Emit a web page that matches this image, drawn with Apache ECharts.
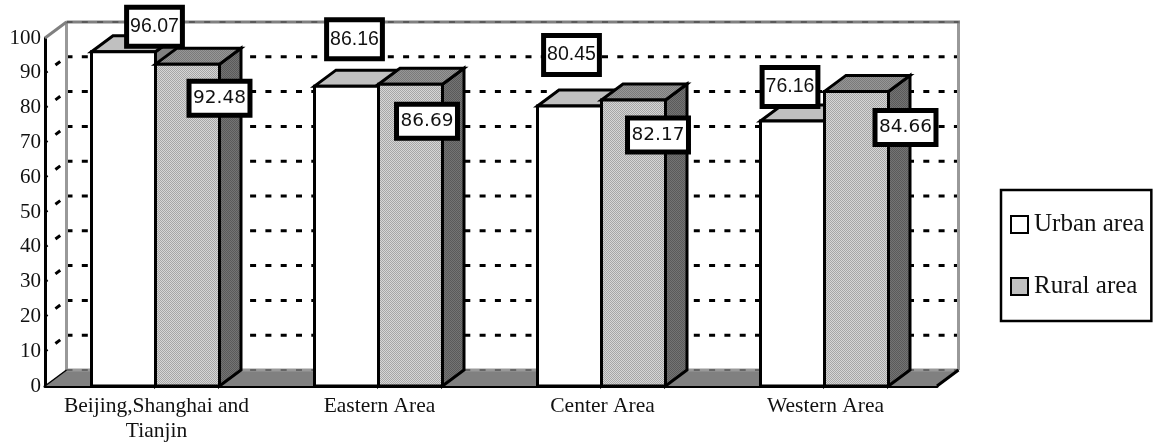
<!DOCTYPE html>
<html>
<head>
<meta charset="utf-8">
<style>html,body{margin:0;padding:0;background:#fff}#c{width:1155px;height:444px}</style>
<script src="https://cdn.jsdelivr.net/npm/echarts@6/dist/echarts.min.js"></script>
</head>
<body>
<div id="c"></div>
<script>
const categories = ['Beijing,Shanghai and\nTianjin', 'Eastern Area', 'Center Area', 'Western Area'];
const urbanValues = [96.07, 86.16, 80.45, 76.16];
const ruralValues = [92.48, 86.69, 82.17, 84.66];
const yTicks = [10, 20, 30, 40, 50, 60, 70, 80, 90, 100];

// label placement relative to the top of each bar (not data)
const urbanLabelShift = [[31, -25], [8, -47], [2, -51], [-2.5, -34]];
const ruralLabelShift = [[32, 34], [16.5, 37], [24.5, 35], [49, 36]];

const DX = 21.5, DY = -16, BAR_W = 64, SEAM = -1;

function dither(a, b) {
  const c = document.createElement('canvas');
  c.width = 4; c.height = 4;
  const g = c.getContext('2d');
  g.fillStyle = a; g.fillRect(0, 0, 4, 4);
  g.fillStyle = b;
  for (let i = 0; i < 4; i++) {
    g.fillRect(i, i, 1, 1);
    g.fillRect((i + 2) % 4, i, 1, 1);
  }
  return { image: c, repeat: 'repeat' };
}
const ruralFront = dither('#d6d6d6', '#a6a6a6');
const ruralTop = dither('#969696', '#7a7a7a');
const ruralSide = dither('#747474', '#5a5a5a');

function poly(pts, fill, stroke, lw) {
  return { type: 'polygon', shape: { points: pts }, style: { fill: fill, stroke: stroke || '#000', lineWidth: lw == null ? 3 : lw, lineJoin: 'miter' } };
}
function seg(a, b, stroke, lw, dash, off) {
  return { type: 'line', shape: { x1: a[0], y1: a[1], x2: b[0], y2: b[1] },
    style: { stroke: stroke, lineWidth: lw, lineDash: dash || null, lineDashOffset: off || 0, fill: null } };
}

function backdrop(params, api) {
  const left = api.coord([0, 0])[0] - api.size([1, 0])[0] / 2;
  const right = left + api.size([1, 0])[0] * categories.length;
  const y0 = api.coord([0, 0])[1], yTop = api.coord([0, 100])[1];
  const kids = [];
  // floor
  kids.push(poly([[left, y0], [right, y0], [right + DX, y0 + DY], [left + DX, y0 + DY]], '#808080', '#808080', 0));
  // gridlines on back wall and side wall
  yTicks.concat([0]).forEach(t => {
    const y = api.coord([0, t])[1];
    const thin = t === 0 || t === 100;
    if (!thin) {
      kids.push(seg([left, y], [left + DX, y + DY], '#000', 3, [3, 10, 6, 20], 0));
      kids.push(seg([left + DX, y + DY], [right + DX, y + DY], '#000', 3, [6, 9.3]));
    }
  });
  // wall edges
  kids.push(seg([left + DX, y0 + DY], [left + DX, yTop + DY], '#999', 3));
  kids.push(seg([right + DX, y0 + DY], [right + DX, yTop + DY], '#999', 3));
  kids.push(seg([left + DX, yTop + DY], [right + DX + 1.5, yTop + DY], '#808080', 3));
  kids.push(seg([left, yTop], [left + DX, yTop + DY], '#808080', 3));
  kids.push(seg([left + DX, y0 + DY], [right + DX, y0 + DY], '#999', 3));
  // fine dashes along floor back edge and top
  kids.push(seg([left + DX, y0 + DY], [right + DX, y0 + DY], '#333', 1, [6, 9.3]));
  kids.push(seg([left + DX, yTop + DY], [right + DX, yTop + DY], '#333', 1, [6, 9.3]));
  // floor outer slanted edges
  kids.push(seg([left, y0], [left + DX, y0 + DY], '#000', 1.5));
  kids.push(seg([right, y0], [right + DX, y0 + DY], '#000', 3));
  return { type: 'group', children: kids };
}

function barRenderer(sideSign, front, top, side) {
  return function (params, api) {
    const i = api.value(0), v = api.value(1);
    const p = api.coord([i, v]), b = api.coord([i, 0]);
    const seam = p[0] + SEAM;
    const x0 = sideSign < 0 ? seam - BAR_W : seam;
    const x1 = x0 + BAR_W;
    return {
      type: 'group',
      children: [
        poly([[x1, p[1]], [x1 + DX, p[1] + DY], [x1 + DX, b[1] + DY], [x1, b[1]]], side),
        poly([[x0, p[1]], [x0 + DX, p[1] + DY], [x1 + DX, p[1] + DY], [x1, p[1]]], top),
        poly([[x0, p[1]], [x1, p[1]], [x1, b[1]], [x0, b[1]]], front)
      ]
    };
  };
}
function labelRenderer(sideSign, shifts, labelFont, pad) {
  return function (params, api) {
    const i = api.value(0), v = api.value(1);
    const p = api.coord([i, v]);
    const cx = p[0] + SEAM + sideSign * BAR_W / 2;
    return {
      type: 'text',
      z2: 100,
      style: {
        x: cx + shifts[i][0], y: p[1] + shifts[i][1],
        text: v.toFixed(2),
        align: 'center', verticalAlign: 'middle',
        font: labelFont, fill: '#111',
        backgroundColor: '#fff', borderColor: '#000', borderWidth: 5,
        padding: pad
      }
    };
  };
}

const chart = echarts.init(document.getElementById('c'), null, { renderer: 'canvas' });
chart.setOption({
  animation: false,
  backgroundColor: '#fff',
  textStyle: { fontFamily: 'Liberation Serif' },
  grid: { left: 45, top: 38, width: 892, height: 348, containLabel: false, outerBoundsMode: 'none' },
  legend: {
    show: true, orient: 'vertical', left: 1001, top: 190,
    padding: [22, 7, 22, 9], itemGap: 37, itemWidth: 17, itemHeight: 17, icon: 'rect',
    backgroundColor: '#fff', borderColor: '#000', borderWidth: 2.5, borderRadius: 0,
    textStyle: { fontFamily: 'Liberation Serif', fontSize: 25, color: '#111', padding: [0, 0, 0, 1] },
    data: ['Urban area', 'Rural area']
  },
  xAxis: {
    type: 'category', data: categories, boundaryGap: true,
    axisLine: { show: true, onZero: false, lineStyle: { color: '#000', width: 3 } },
    axisTick: { show: true, inside: true, length: 6, alignWithLabel: false, lineStyle: { color: '#000', width: 2 } },
    axisLabel: { fontFamily: 'Liberation Serif', fontSize: 21.5, color: '#111', margin: 8, lineHeight: 25, interval: 0 },
    splitLine: { show: false }
  },
  yAxis: {
    type: 'value', min: 0, max: 100, interval: 10,
    axisLine: { show: true, lineStyle: { color: '#000', width: 3 } },
    axisTick: { show: true, inside: true, length: 2, lineStyle: { color: '#000', width: 3 } },
    axisLabel: { fontFamily: 'Liberation Serif', fontSize: 21, color: '#111', margin: 4 },
    splitLine: { show: false }
  },
  series: [
    { type: 'custom', name: 'backdrop', silent: true, clip: false, z: 1, data: [[0, 0]], encode: { x: 0, y: 1 }, renderItem: backdrop },
    { type: 'custom', name: 'Urban area', clip: false, z: 3, data: urbanValues.map((v, i) => [i, v]), encode: { x: 0, y: 1 },
      itemStyle: { color: '#fff', borderColor: '#000', borderWidth: 3 },
      renderItem: barRenderer(-1, '#fff', '#c0c0c0', '#808080') },
    { type: 'custom', name: 'Rural area', clip: false, z: 4, data: ruralValues.map((v, i) => [i, v]), encode: { x: 0, y: 1 },
      itemStyle: { color: '#c0c0c0', borderColor: '#000', borderWidth: 3 },
      renderItem: barRenderer(1, ruralFront, ruralTop, ruralSide) },
    { type: 'custom', name: 'urbanLabels', silent: true, clip: false, z: 6, data: urbanValues.map((v, i) => [i, v]), encode: { x: 0, y: 1 },
      renderItem: labelRenderer(-1, urbanLabelShift, '19.5px "Liberation Sans"', [7, 1, 7, 1]) },
    { type: 'custom', name: 'ruralLabels', silent: true, clip: false, z: 6, data: ruralValues.map((v, i) => [i, v]), encode: { x: 0, y: 1 },
      renderItem: labelRenderer(1, ruralLabelShift, '18.5px "DejaVu Sans"', [5, 1.5, 5, 1.5]) }
  ]
});
</script>
</body>
</html>
